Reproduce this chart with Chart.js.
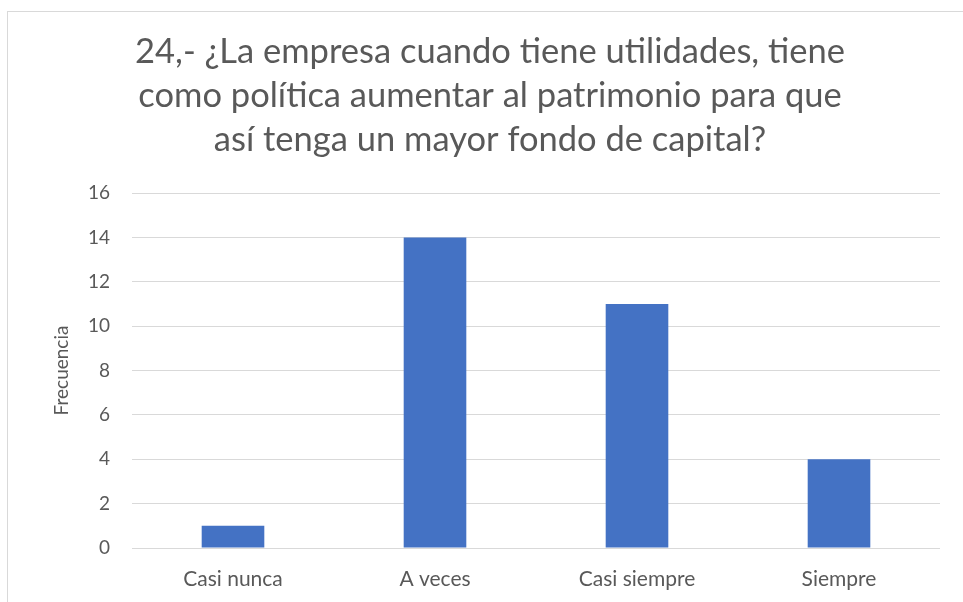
<!DOCTYPE html>
<html>
<head>
<meta charset="utf-8">
<script src="https://cdn.jsdelivr.net/npm/chart.js@4.4.1/dist/chart.umd.min.js"></script>
<style>
    body { margin: 0; background: #fff; overflow: hidden; }
    #marco { position: absolute; left: 7px; top: 11px; width: 970px; height: 600px; border: 1px solid #d9d9d9; }
    #lienzo { position: absolute; left: 0; top: 0; width: 963px; height: 602px; }
</style>
</head>
<body>
<div id="marco"></div>
<div id="lienzo"><canvas id="grafico"></canvas></div>
<script>
const categorias = ['Casi nunca', 'A veces', 'Casi siempre', 'Siempre'];
const frecuencias = [1, 14, 11, 4];
const titulo = [
    '24,- ¿La empresa cuando tiene utilidades, tiene',
    'como política aumentar al patrimonio para que',
    'así tenga un mayor fondo de capital?'
];

const gris = '#595959';
const fuente = 'Lato, "Open Sans", sans-serif';

// titulo centrado sobre el marco, no sobre el area del canvas
const tituloPlugin = {
    id: 'tituloCentrado',
    afterDraw(chart) {
        const c = chart.ctx;
        c.save();
        c.fillStyle = gris;
        c.font = `34.5px ${fuente}`;
        c.textAlign = 'center';
        c.textBaseline = 'middle';
        titulo.forEach((linea, i) => c.fillText(linea, 490, 52 + i * 44));
        c.restore();
    }
};

const ctx = document.getElementById('grafico').getContext('2d');
new Chart(ctx, {
    type: 'bar',
    data: {
        labels: categorias,
        datasets: [{
            data: frecuencias,
            backgroundColor: '#4472C4',
            barPercentage: 0.31,
            categoryPercentage: 1
        }]
    },
    options: {
        responsive: true,
        maintainAspectRatio: false,
        animation: false,
        layout: { padding: { left: 0, right: 23, top: 193, bottom: 0 } },
        plugins: {
            legend: { display: false },
            tooltip: { enabled: false }
        },
        scales: {
            x: {
                grid: { display: false },
                border: { display: false },
                ticks: { color: gris, font: { family: fuente, size: 21 }, padding: 11 },
                afterFit: s => { s.height = 54; }
            },
            y: {
                min: 0,
                max: 16,
                ticks: { stepSize: 2, color: gris, font: { family: fuente, size: 19 }, padding: 22 },
                grid: { color: '#d9d9d9', lineWidth: 1, drawTicks: false },
                border: { display: false },
                title: {
                    display: true,
                    text: 'Frecuencia',
                    color: gris,
                    font: { family: fuente, size: 19 },
                    padding: { top: 50, bottom: 0 }
                },
                afterFit: s => { s.width = 132; }
            }
        }
    },
    plugins: [tituloPlugin]
});
</script>
</body>
</html>
